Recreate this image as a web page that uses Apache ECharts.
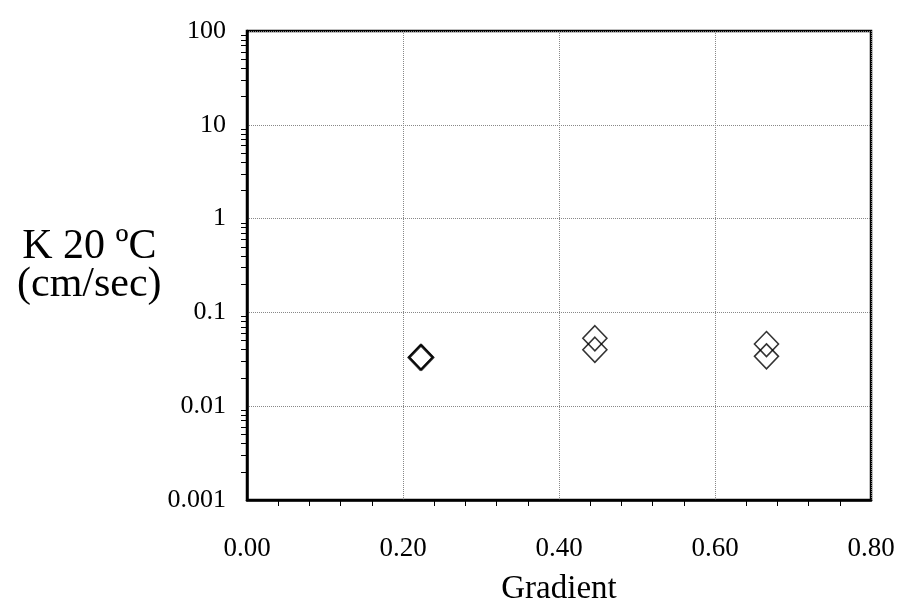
<!DOCTYPE html>
<html>
<head>
<meta charset="utf-8">
<script src="https://cdn.jsdelivr.net/npm/echarts@6/dist/echarts.min.js"></script>
<style>
html, body { margin: 0; padding: 0; background: #fff; }
#main { width: 917px; height: 604px; }
</style>
</head>
<body>
<div id="main"></div>
<script>
// 数据
var gradient = [0.222, 0.223, 0.224, 0.446, 0.446, 0.666, 0.666];
var k20 = [0.033, 0.0335, 0.033, 0.053, 0.040, 0.046, 0.034];
var xTickLabels = ['0.00', '0.20', '0.40', '0.60', '0.80'];
var yTickLabels = ['0.001', '0.01', '0.1', '1', '10', '100'];

var points = gradient.map(function (g, i) { return [g, k20[i]]; });

var font = 'Liberation Serif';

var echart = echarts.init(document.getElementById('main'));
var option = {
    animation: false,
    backgroundColor: '#fff',
    grid: {
        left: 247,
        right: 46,
        top: 31,
        bottom: 104,
        outerBoundsMode: 'none',
        containLabel: false,
        show: true,
        borderColor: '#000',
        borderWidth: 2.5
    },
    xAxis: {
        type: 'value',
        min: 0,
        max: 0.8,
        interval: 0.2,
        name: 'Gradient',
        nameLocation: 'middle',
        nameGap: 73,
        nameTextStyle: { fontFamily: font, fontSize: 33, color: '#000' },
        axisLine: { show: true, onZero: false, lineStyle: { color: '#000', width: 2.5 } },
        axisTick: { show: false },
        minorTick: { show: true, splitNumber: 5, length: 6, lineStyle: { color: '#000', width: 1 } },
        axisLabel: {
            margin: 35,
            fontFamily: font, fontSize: 27, color: '#000',
            formatter: function (v) { return xTickLabels[Math.round(v / 0.2)]; }
        },
        splitLine: { show: true, lineStyle: { color: '#888', type: 'dotted', width: 1 } }
    },
    yAxis: {
        type: 'log',
        logBase: 10,
        min: 0.001,
        max: 100,
        name: 'K 20 ºC\n(cm/sec)',
        nameLocation: 'middle',
        nameRotate: 0,
        nameGap: 66,
        nameTextStyle: { fontFamily: font, fontSize: 42, color: '#000', lineHeight: 38, align: 'center', padding: [0, 0, 48, 0] },
        axisLine: { show: true, onZero: false, lineStyle: { color: '#000', width: 2.5 } },
        axisTick: { show: false },
        minorTick: { show: true, splitNumber: 9, length: 6, lineStyle: { color: '#000', width: 1 } },
        axisLabel: {
            margin: 21,
            fontFamily: font, fontSize: 26, color: '#000',
            formatter: function (v) {
                var idx = Math.round(Math.log10(v)) + 3;
                return yTickLabels[idx];
            }
        },
        splitLine: { show: true, lineStyle: { color: '#888', type: 'dotted', width: 1 } }
    },
    series: [{
        type: 'scatter',
        data: points,
        symbol: 'diamond',
        symbolSize: [24, 25],
        itemStyle: { color: 'rgba(255,255,255,0)', borderColor: '#000', borderWidth: 1.6 }
    }]
};
echart.setOption(option);
</script>
</body>
</html>
